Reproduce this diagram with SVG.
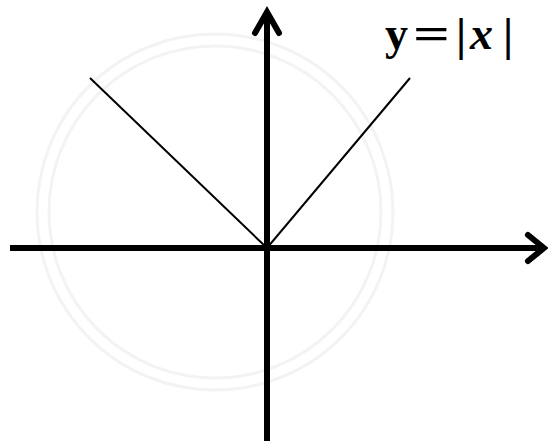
<svg xmlns="http://www.w3.org/2000/svg" width="548" height="441" viewBox="0 0 548 441">
<style>
.axis{stroke:#000;stroke-width:6;fill:none}
.head{stroke:#000;stroke-width:6;fill:none;stroke-linecap:round;stroke-linejoin:miter}
.graph{stroke:#000;stroke-width:2;fill:none}
.wm{stroke:#f3f3f3;stroke-width:3;fill:none}
.lbl{font-family:"Liberation Serif","DejaVu Serif",serif;font-size:46px;font-weight:bold;fill:#000}
</style>
<rect width="548" height="441" fill="#fff"/>
<g id="watermark">
<circle class="wm" cx="215" cy="212" r="178"/>
<circle class="wm" cx="215" cy="212" r="166"/>
</g>
<g id="connectors">
<line class="axis" x1="10" y1="248" x2="544" y2="248"/>
<polyline class="head" points="528,235 544,248 528,261"/>
<line class="axis" x1="267" y1="441" x2="267" y2="11"/>
<polyline class="head" points="255,33 267,12 279,33"/>
<polyline class="graph" points="90,78 267,248 410,78"/>
</g>
<g id="label">
<text class="lbl" x="385" y="49">y</text>
<text class="lbl" x="413" y="49" font-weight="normal" textLength="37" lengthAdjust="spacingAndGlyphs">=</text>
<text class="lbl" x="456" y="50" font-weight="normal">|</text>
<text class="lbl" x="470" y="49" font-style="italic">x</text>
<text class="lbl" x="503" y="50" font-weight="normal">|</text>
</g>
</svg>
